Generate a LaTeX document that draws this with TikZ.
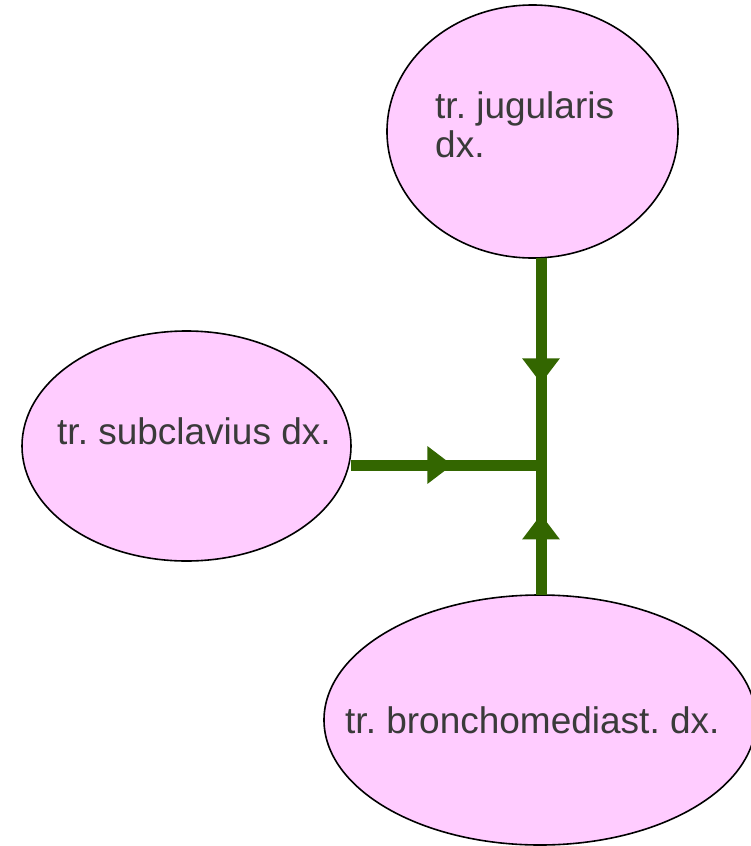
\documentclass[tikz,border=0pt]{standalone}
\usepackage{fontspec}
\setmainfont{Liberation Sans}
\usetikzlibrary{arrows.meta,decorations.markings,shapes.geometric}
\definecolor{pinkfill}{HTML}{FFCCFF}
\definecolor{flow}{HTML}{336600}
\definecolor{txt}{HTML}{3A3A3A}
\frenchspacing
\tikzset{
  lymph/.style={ellipse, draw=black, line width=1.6pt, fill=pinkfill, inner sep=0pt, outer sep=0pt},
  lbl/.style={anchor=base west, inner sep=0pt, text=txt, font=\fontsize{37}{39}\selectfont, align=left},
  duct/.style={draw=flow, line width=11pt},
  midarrow/.style={postaction={decorate, decoration={markings,
      mark=at position #1 with {\arrow[flow]{Triangle[width=36pt,length=25pt]}}}}}
}
\begin{document}
\begin{tikzpicture}[x=1pt,y=-1pt]
\useasboundingbox (0,0) rectangle (751,846);
\node[lymph, minimum width=291pt, minimum height=253pt] (jug) at (532.5,131.5) {};
\node[lymph, minimum width=329pt, minimum height=230pt] (sub) at (186.5,446) {};
\node[lymph, minimum width=432pt, minimum height=250pt] (bron) at (540,720) {};
\node[lbl] (jugt) at (435,157) {tr. jugularis\\dx.};
\node[lbl] (subt) at (57,444) {tr. subclavius dx.};
\node[lbl] (bront) at (345,733) {tr. bronchomediast. dx.};
\coordinate (J) at (541,465);
\draw[duct, midarrow=0.59] (J |- jug.south) -- ([yshift=-5.5pt]J);
\draw[duct, midarrow=0.595] (J |- bron.north) -- ([yshift=5.5pt]J);
\draw[duct, midarrow=0.55] (sub.east |- J) -- ([xshift=-5.5pt]J);
\end{tikzpicture}
\end{document}
